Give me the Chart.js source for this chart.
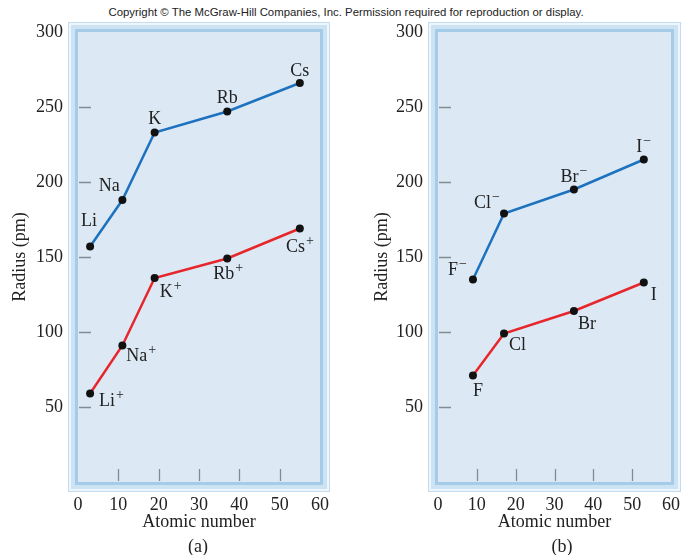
<!DOCTYPE html>
<html>
<head>
<meta charset="utf-8">
<script src="https://cdn.jsdelivr.net/npm/chart.js@4.4.1/dist/chart.umd.min.js"></script>
<style>
  body { margin: 0; background: #fff; width: 692px; height: 555px; position: relative; overflow: hidden; }
  canvas { position: absolute; top: 0; }
  #chartA { left: 0; }
  #chartB { left: 346px; }
  .note { position: absolute; top: 6px; left: 0; width: 692px; text-align: center;
          font: 11.4px "Liberation Sans", Arial, sans-serif; color: #222; }
  .sub { position: absolute; top: 536px; width: 100px; text-align: center;
         font: 18px "Liberation Serif", serif; color: #222; }
</style>
</head>
<body>
<div class="note">Copyright © The McGraw-Hill Companies, Inc. Permission required for reproduction or display.</div>
<canvas id="chartA" width="346" height="555"></canvas>
<canvas id="chartB" width="346" height="555"></canvas>
<div class="sub" style="left:148px">(a)</div>
<div class="sub" style="left:512px">(b)</div>

<script>
// (a) alkali metals: atoms and +1 ions
const alkaliNumber = [3, 11, 19, 37, 55];
const alkaliAtom = [157, 188, 233, 247, 266];
const alkaliIon = [59, 91, 136, 149, 169];
const alkaliNames = ["Li", "Na", "K", "Rb", "Cs"];

// (b) halogens: -1 ions and atoms
const halogenNumber = [9, 17, 35, 53];
const halogenIon = [135, 179, 195, 215];
const halogenAtom = [71, 99, 114, 133];
const halogenNames = ["F", "Cl", "Br", "I"];

const xTicks = [0, 10, 20, 30, 40, 50, 60];
const yTicks = [0, 50, 100, 150, 200, 250, 300];

const BLUE = "#1d72bf";
const RED = "#e6262b";
const SERIF = "'Liberation Serif', 'Times New Roman', serif";

// label placement next to each point: [align, dx, dy]
const offsAlkAtom = [["center", -1, -25], ["center", -13, -14], ["center", 0, -13], ["center", 0, -13], ["center", 0, -12]];
const offsAlkIon = [["left", 9, 8], ["left", 4, 11], ["left", 5, 14], ["center", 1, 16], ["center", 0, 19]];
const offsHalIon = [["right", -6, -9], ["center", -17, -10], ["center", 0, -12], ["center", 0, -12]];
const offsHalAtom = [["center", 5, 16], ["left", 5, 12], ["center", 13, 13], ["center", 10, 13]];

function makeChart(id, series, padRight, yWidth, titlePad) {
  const framePlugin = {
    id: "frame",
    beforeDraw(chart) {
      const { ctx, chartArea: a } = chart;
      const layers = [[10, "#c3dcef"], [9, "#eef6fc"], [7, "#cce3f3"], [3, "#a4cbe8"], [0, "#dce9f5"]];
      ctx.save();
      for (const [ins, col] of layers) {
        ctx.fillStyle = col;
        ctx.fillRect(a.left - ins, a.top - ins, a.right - a.left + 2 * ins, a.bottom - a.top + 2 * ins);
      }
      ctx.restore();
    },
    beforeDatasetsDraw(chart) {
      const { ctx, chartArea: a, scales } = chart;
      ctx.save();
      ctx.strokeStyle = "#838b93";
      ctx.lineWidth = 1.3;
      ctx.beginPath();
      yTicks.filter(v => v > 0 && v < 300).forEach(v => {
        const y = Math.round(scales.y.getPixelForValue(v)) + 0.5;
        ctx.moveTo(a.left + 1, y); ctx.lineTo(a.left + 13, y);
      });
      xTicks.filter(v => v > 0 && v < 60).forEach(v => {
        const x = Math.round(scales.x.getPixelForValue(v)) + 0.5;
        ctx.moveTo(x, a.bottom - 1); ctx.lineTo(x, a.bottom - 13);
      });
      ctx.stroke();
      ctx.restore();
    },
    afterDatasetsDraw(chart) {
      const { ctx } = chart;
      ctx.save();
      ctx.fillStyle = "#222";
      ctx.textBaseline = "middle";
      series.forEach((s, di) => {
        const meta = chart.getDatasetMeta(di);
        meta.data.forEach((pt, i) => {
          const [align, dx, dy] = s.offs[i];
          ctx.font = "18px " + SERIF;
          const wBase = ctx.measureText(s.names[i]).width;
          ctx.font = "14px " + SERIF;
          const wCh = s.charge ? ctx.measureText(s.charge).width + 1 : 0;
          const total = wBase + wCh;
          let x = pt.x + dx;
          if (align === "center") x -= total / 2;
          else if (align === "right") x -= total;
          const y = pt.y + dy;
          ctx.textAlign = "left";
          ctx.font = "18px " + SERIF;
          ctx.fillText(s.names[i], x, y);
          if (s.charge) {
            ctx.font = "14px " + SERIF;
            ctx.fillText(s.charge, x + wBase + 1, y - 6);
          }
        });
      });
      ctx.restore();
    }
  };

  return new Chart(document.getElementById(id), {
    type: "line",
    data: {
      datasets: series.map(s => ({
        data: s.x.map((x, i) => ({ x: x, y: s.y[i] })),
        borderColor: s.color,
        borderWidth: 2.5,
        pointRadius: 4,
        pointBackgroundColor: "#111",
        pointBorderWidth: 0,
        tension: 0
      }))
    },
    options: {
      responsive: false,
      animation: false,
      layout: { padding: { left: 0, top: 32, right: padRight, bottom: 0 } },
      plugins: { legend: { display: false }, tooltip: { enabled: false } },
      scales: {
        x: {
          type: "linear", min: 0, max: 60,
          border: { display: false },
          grid: { display: false, drawTicks: false },
          ticks: { stepSize: 10, padding: 12, color: "#222", font: { family: SERIF, size: 18 } },
          title: { display: true, text: "Atomic number", color: "#222",
                   font: { family: SERIF, size: 18 }, padding: { top: 0, bottom: 22 } },
          afterFit: s => { s.height = 73; }
        },
        y: {
          type: "linear", min: 0, max: 300,
          border: { display: false },
          grid: { display: false, drawTicks: false },
          ticks: { stepSize: 50, padding: 15, color: "#222", font: { family: SERIF, size: 18 },
                   callback: v => (v === 0 ? "" : v) },
          title: { display: true, text: "Radius (pm)", color: "#222",
                   font: { family: SERIF, size: 18 }, padding: { top: titlePad, bottom: 0 } },
          afterFit: s => { s.width = yWidth; }
        }
      }
    },
    plugins: [framePlugin]
  });
}

makeChart("chartA", [
  { x: alkaliNumber, y: alkaliAtom, names: alkaliNames, charge: "", offs: offsAlkAtom, color: BLUE },
  { x: alkaliNumber, y: alkaliIon, names: alkaliNames, charge: "+", offs: offsAlkIon, color: RED }
], 26, 78, 9);

makeChart("chartB", [
  { x: halogenNumber, y: halogenIon, names: halogenNames, charge: "−", offs: offsHalIon, color: BLUE },
  { x: halogenNumber, y: halogenAtom, names: halogenNames, charge: "", offs: offsHalAtom, color: RED }
], 12, 92, 25);
</script>
</body>
</html>
